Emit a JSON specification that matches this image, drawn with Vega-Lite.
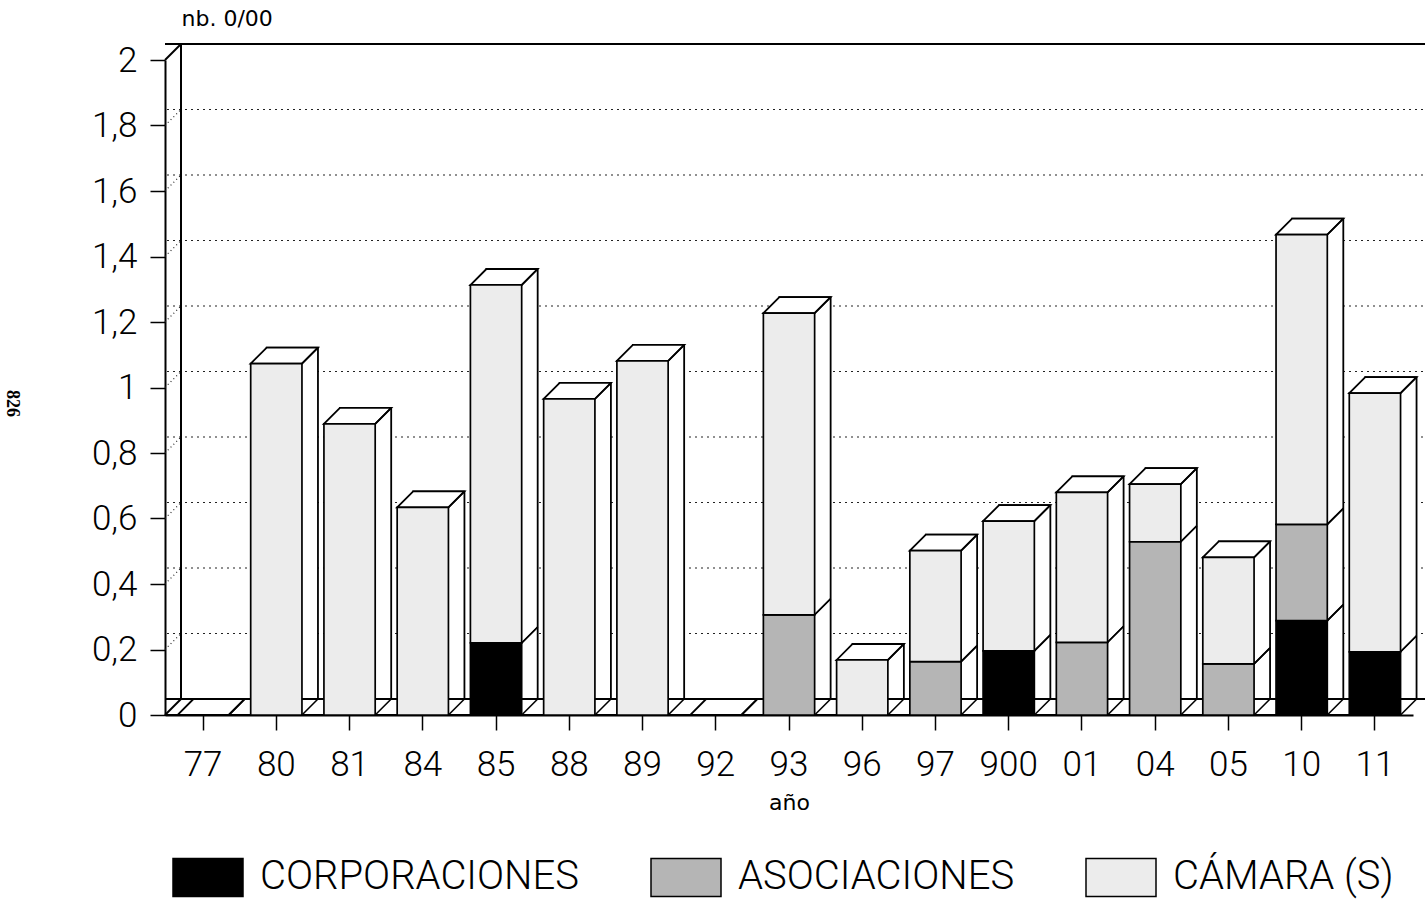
{
  "$schema": "https://vega.github.io/schema/vega-lite/v6.json",
  "width": 1248,
  "height": 655,
  "autosize": "none",
  "padding": {"left": 165, "top": 60, "right": 12, "bottom": 188},
  "background": "white",
  "title": {"text": "826", "orient": "left", "angle": 90, "anchor": "middle", "fontSize": 18, "font": "Liberation Serif", "fontWeight": "bold", "offset": 52, "dx": 16, "color": "black"},
  "config": {
    "view": {"stroke": null},
    "font": "Roboto",
    "axis": {"grid": false, "domainColor": "black", "domainWidth": 2, "tickColor": "black", "tickWidth": 1.5, "tickSize": 15, "labelColor": "black", "labelFont": "Roboto", "labelFontWeight": 300, "labelFontSize": 35, "titleColor": "black", "titleFont": "DejaVu Sans", "titleFontSize": 22, "titleFontWeight": "normal"},
    "axisX": {"labelAngle": 0, "labelPadding": 17, "titlePadding": 10},
    "axisY": {"labelPadding": 13, "titleAngle": 0, "titleAlign": "left", "titleBaseline": "middle", "titleX": 16, "titleY": -42}
  },
  "datasets": {
    "seg": [
      {"year": "77", "serie": "CÁMARA (S)", "k": 3, "v": 0},
      {"year": "80", "serie": "CÁMARA (S)", "k": 3, "v": 1.073},
      {"year": "81", "serie": "CÁMARA (S)", "k": 3, "v": 0.889},
      {"year": "84", "serie": "CÁMARA (S)", "k": 3, "v": 0.634},
      {"year": "85", "serie": "CORPORACIONES", "k": 1, "v": 0.22},
      {"year": "85", "serie": "CÁMARA (S)", "k": 3, "v": 1.093},
      {"year": "88", "serie": "CÁMARA (S)", "k": 3, "v": 0.965},
      {"year": "89", "serie": "CÁMARA (S)", "k": 3, "v": 1.081},
      {"year": "92", "serie": "CÁMARA (S)", "k": 3, "v": 0},
      {"year": "93", "serie": "ASOCIACIONES", "k": 2, "v": 0.306},
      {"year": "93", "serie": "CÁMARA (S)", "k": 3, "v": 0.921},
      {"year": "96", "serie": "CÁMARA (S)", "k": 3, "v": 0.168},
      {"year": "97", "serie": "ASOCIACIONES", "k": 2, "v": 0.163},
      {"year": "97", "serie": "CÁMARA (S)", "k": 3, "v": 0.339},
      {"year": "900", "serie": "CORPORACIONES", "k": 1, "v": 0.196},
      {"year": "900", "serie": "CÁMARA (S)", "k": 3, "v": 0.396},
      {"year": "01", "serie": "ASOCIACIONES", "k": 2, "v": 0.222},
      {"year": "01", "serie": "CÁMARA (S)", "k": 3, "v": 0.458},
      {"year": "04", "serie": "ASOCIACIONES", "k": 2, "v": 0.529},
      {"year": "04", "serie": "CÁMARA (S)", "k": 3, "v": 0.176},
      {"year": "05", "serie": "ASOCIACIONES", "k": 2, "v": 0.156},
      {"year": "05", "serie": "CÁMARA (S)", "k": 3, "v": 0.325},
      {"year": "10", "serie": "CORPORACIONES", "k": 1, "v": 0.288},
      {"year": "10", "serie": "ASOCIACIONES", "k": 2, "v": 0.294},
      {"year": "10", "serie": "CÁMARA (S)", "k": 3, "v": 0.885},
      {"year": "11", "serie": "CORPORACIONES", "k": 1, "v": 0.193},
      {"year": "11", "serie": "CÁMARA (S)", "k": 3, "v": 0.79}
    ],
    "grid": [{"v": 0.2}, {"v": 0.4}, {"v": 0.6}, {"v": 0.8}, {"v": 1}, {"v": 1.2}, {"v": 1.4}, {"v": 1.6}, {"v": 1.8}],
    "frame": [{"v": 0}, {"v": 2}],
    "base": [{"v": 0}],
    "wall": [{"a": 0, "b": 2}]
  },
  "layer": [
    {
      "data": {"name": "grid"},
      "mark": {"type": "rule", "xOffset": 16, "x2Offset": 16, "yOffset": -16, "strokeDash": [2, 4], "color": "#222", "strokeWidth": 1.2},
      "encoding": {"y": {"field": "v", "type": "quantitative", "title": "nb. 0/00", "scale": {"domain": [0, 2], "nice": false}}}
    },
    {
      "data": {"name": "frame"},
      "mark": {"type": "rule", "xOffset": 16, "x2Offset": 16, "yOffset": -16, "color": "black", "strokeWidth": 2},
      "encoding": {"y": {"field": "v", "type": "quantitative", "title": "nb. 0/00"}}
    },
    {
      "data": {"name": "wall"},
      "mark": {"type": "rule", "xOffset": 16, "yOffset": -16, "y2Offset": -16, "color": "black", "strokeWidth": 2},
      "encoding": {"x": {"value": 0}, "y": {"field": "a", "type": "quantitative", "title": "nb. 0/00"}, "y2": {"field": "b"}}
    },
    {
      "data": {"name": "grid"},
      "mark": {"type": "point", "shape": "M0,0L16,-16", "size": 4, "filled": false, "stroke": "#222", "strokeWidth": 1.2, "strokeDash": [1, 3], "opacity": 1},
      "encoding": {"x": {"value": 0}, "y": {"field": "v", "type": "quantitative", "title": "nb. 0/00"}}
    },
    {
      "data": {"name": "frame"},
      "mark": {"type": "point", "shape": "M0,0L16,-16", "size": 4, "filled": false, "stroke": "black", "strokeWidth": 2, "opacity": 1},
      "encoding": {"x": {"value": 0}, "y": {"field": "v", "type": "quantitative", "title": "nb. 0/00"}}
    },
    {
      "data": {"name": "base"},
      "mark": {"type": "rule", "xOffset": -15, "x2Offset": 12, "color": "black", "strokeWidth": 2},
      "encoding": {"y": {"field": "v", "type": "quantitative", "title": "nb. 0/00"}}
    },
    {
      "data": {"name": "seg"},
      "transform": [{"aggregate": [{"op": "sum", "field": "v", "as": "total"}], "groupby": ["year"]}],
      "mark": {"type": "bar", "xOffset": 16, "yOffset": -16, "y2Offset": -16, "fill": "white", "stroke": "black", "strokeWidth": 1.8},
      "encoding": {
        "x": {"field": "year", "type": "nominal", "sort": null, "title": "año"},
        "y": {"field": "total", "type": "quantitative", "title": "nb. 0/00"}
      }
    },
    {
      "data": {"name": "seg"},
      "transform": [{"aggregate": [{"op": "sum", "field": "v", "as": "total"}], "groupby": ["year"]}],
      "mark": {"type": "point", "shape": "M0,0L51.3,0L67.3,-16L16,-16Z", "size": 4, "filled": true, "fill": "white", "stroke": "black", "strokeWidth": 1.8, "opacity": 1},
      "encoding": {
        "x": {"field": "year", "type": "nominal", "sort": null, "bandPosition": 0, "title": "año"},
        "y": {"field": "total", "type": "quantitative", "title": "nb. 0/00"}
      }
    },
    {
      "data": {"name": "seg"},
      "mark": {"type": "bar", "stroke": "black", "strokeWidth": 1.7},
      "encoding": {
        "x": {
          "field": "year", "type": "nominal", "sort": null, "title": "año",
          "scale": {"domain": ["77", "80", "81", "84", "85", "88", "89", "92", "93", "96", "97", "900", "01", "04", "05", "10", "11"], "paddingInner": 0.3, "paddingOuter": 0.17}
        },
        "y": {
          "field": "v", "type": "quantitative", "stack": "zero", "title": "nb. 0/00",
          "axis": {"values": [0, 0.2, 0.4, 0.6, 0.8, 1, 1.2, 1.4, 1.6, 1.8, 2], "labelExpr": "replace(format(datum.value, '~g'), '.', ',')"}
        },
        "fill": {
          "field": "serie", "type": "nominal",
          "scale": {"domain": ["CORPORACIONES", "ASOCIACIONES", "CÁMARA (S)"], "range": ["black", "#b5b5b5", "#ececec"]},
          "legend": {"orient": "none", "legendX": 7, "legendY": 781, "direction": "horizontal", "title": null, "padding": 0, "symbolType": "M-1,-0.543L1,-0.543L1,0.543L-1,0.543Z", "symbolSize": 4900, "symbolStrokeColor": "black", "symbolStrokeWidth": 1.5, "symbolOpacity": 1, "labelFont": "Roboto", "labelFontWeight": 300, "labelFontSize": 40, "labelColor": "black", "labelOffset": 16, "columnPadding": 68, "labelLimit": 0}
        },
        "order": {"field": "k", "type": "quantitative"}
      }
    },
    {
      "data": {"name": "seg"},
      "transform": [{"stack": "v", "groupby": ["year"], "sort": [{"field": "k"}], "as": ["v0", "v1"]}],
      "mark": {"type": "point", "shape": "M0,0L16,-16", "size": 4, "filled": false, "stroke": "black", "strokeWidth": 1.6, "opacity": 1},
      "encoding": {
        "x": {"field": "year", "type": "nominal", "sort": null, "bandPosition": 1, "title": "año"},
        "y": {"field": "v1", "type": "quantitative", "title": "nb. 0/00"}
      }
    },
    {
      "data": {"name": "seg"},
      "transform": [{"stack": "v", "groupby": ["year"], "sort": [{"field": "k"}], "as": ["v0", "v1"]}],
      "mark": {"type": "point", "shape": "M0,0L16,-16", "size": 4, "filled": false, "stroke": "black", "strokeWidth": 1.6, "opacity": 1},
      "encoding": {
        "x": {"field": "year", "type": "nominal", "sort": null, "bandPosition": 1, "title": "año"},
        "y": {"field": "v0", "type": "quantitative", "title": "nb. 0/00"}
      }
    }
  ]
}
